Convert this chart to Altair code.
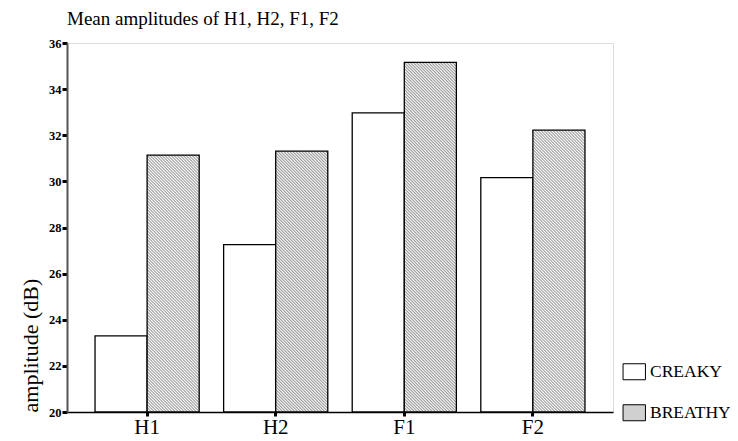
import math
import altair as alt
import pandas as pd

# ---- data ----
categories = ["H1", "H2", "F1", "F2"]
creaky = [23.3, 27.26, 32.97, 30.16]
breathy = [31.14, 31.31, 35.16, 32.22]
types = ["CREAKY", "BREATHY"]
y_ticks = [20, 22, 24, 26, 28, 30, 32, 34, 36]
BASE = 20

rows = []
for c, a, b in zip(categories, creaky, breathy):
    rows.append({"cat": c, "type": "CREAKY", "value": a})
    rows.append({"cat": c, "type": "BREATHY", "value": b})
df = pd.DataFrame(rows)

# ---- layout / style ----
W, H = 546, 369
PI, PO = 0.19, 0.218
step = W / (len(categories) - PI + 2 * PO)
bar_w = step * (1 - PI) / 2
PERIOD = 3.0
DARK = "#969696"
FONT = "Liberation Serif"


def hatch(w, h):
    """Linear gradient giving fine 45deg '\\' stripes in a w x h box."""
    k = (w + h) / (w * w + h * h)
    n = (w + h) / PERIOD
    stops = []
    i = 0
    while i < n:
        for frac, col in ((0.0, "white"), (0.5, DARK)):
            o = (i + frac) / n
            if o <= 1.0:
                stops.append({"offset": round(o, 5), "color": col})
        i += 1
    stops.append({"offset": 1.0, "color": "white"})
    return {"gradient": "linear", "x1": 0, "y1": 1,
            "x2": round(k * w, 6), "y2": round(1 - k * h, 6), "stops": stops}


conds = []
for c, b in zip(categories, breathy):
    h = (b - BASE) / (y_ticks[-1] - BASE) * H
    conds.append({"test": f"datum.type === 'BREATHY' && datum.cat === '{c}'",
                  "value": hatch(bar_w, h)})

bars = alt.Chart(df).mark_bar(stroke="black", strokeWidth=1.3).encode(
    x=alt.X("cat:N", sort=categories,
            scale=alt.Scale(paddingInner=PI, paddingOuter=PO),
            axis=alt.Axis(title=None, labelAngle=0, labelFont=FONT,
                          labelFontSize=21, labelColor="black", labelPadding=0,
                          tickColor="black", tickWidth=3, tickSize=4,
                          domainColor="black", domainWidth=1.5)),
    xOffset=alt.XOffset("type:N", sort=types,
                        scale=alt.Scale(paddingInner=0, paddingOuter=0)),
    y=alt.Y("value:Q",
            scale=alt.Scale(domain=[BASE, y_ticks[-1]], nice=False, zero=False),
            axis=alt.Axis(values=y_ticks, grid=False, title="amplitude (dB)",
                          titleFont=FONT, titleFontSize=22,
                          titleFontWeight="normal", titleColor="black",
                          titleAnchor="start", titlePadding=6,
                          labelFont=FONT, labelFontSize=12.5,
                          labelFontWeight="bold", labelColor="black",
                          labelPadding=1, tickColor="black", tickWidth=3,
                          tickSize=5, domainColor="#555555", domainWidth=2)),
    y2=alt.datum(BASE),
    fill={
        "condition": conds,
        "field": "type",
        "type": "nominal",
        "scale": {"domain": types, "range": ["white", "#d0d0d0"]},
        "legend": {
            "title": None,
            "orient": "none",
            "legendX": 558.5,
            "legendY": 320,
            "symbolType": "M-1.4,-1L1.4,-1L1.4,1L-1.4,1Z",
            "symbolSize": 256,
            "symbolStrokeColor": "black",
            "symbolStrokeWidth": 1,
            "symbolOpacity": 1,
            "labelFont": FONT,
            "labelFontSize": 17.5,
            "labelColor": "black",
            "labelOffset": 7,
            "rowPadding": 20,
        },
    },
)

chart = bars.properties(
    width=W,
    height=H,
    title=alt.Title("Mean amplitudes of H1, H2, F1, F2", anchor="start",
                    frame="group", font=FONT, fontSize=19,
                    fontWeight="normal", color="black", offset=8),
    autosize=alt.AutoSizeParams(type="none"),
    padding={"left": 59, "top": 35, "right": 117, "bottom": 29},
).configure_view(stroke=None).configure(background="white")

chart.save("out.html", embed_options={"renderer": "svg", "actions": False})
